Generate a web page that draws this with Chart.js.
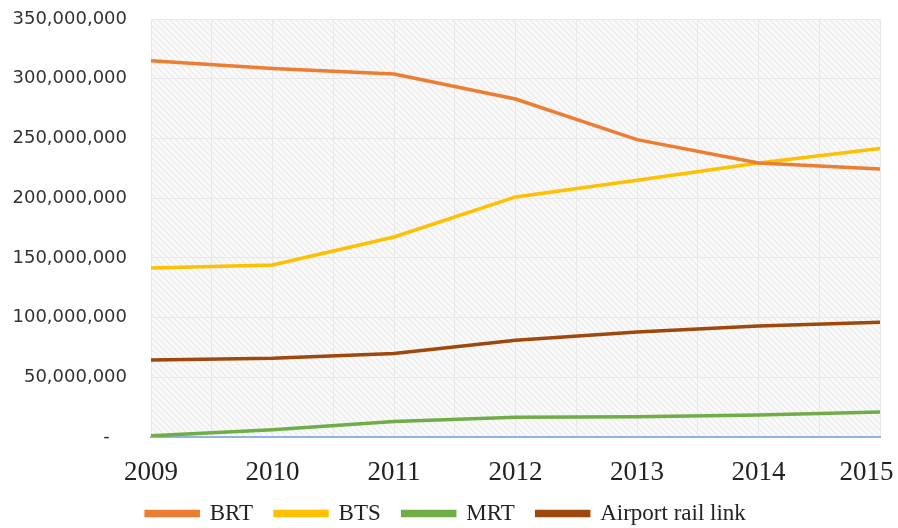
<!DOCTYPE html>
<html>
<head>
<meta charset="utf-8">
<script src="https://cdn.jsdelivr.net/npm/chart.js@4.4.0/dist/chart.umd.min.js"></script>
<style>
  body { margin: 0; background: #fff; }
  #wrap { width: 898px; height: 528px; position: relative; }
</style>
</head>
<body>
<div id="wrap"><canvas id="ridership"></canvas></div>
<script>
// Passengers per year
var years = [2009, 2010, 2011, 2012, 2013, 2014, 2015];
var brt = [315000000, 308500000, 304000000, 283000000, 249000000, 229500000, 224500000];
var bts = [141500000, 144000000, 167500000, 201000000, 215000000, 229500000, 241500000];
var mrt = [1000000, 6000000, 13000000, 16500000, 17000000, 18500000, 21000000];
var arl = [64500000, 66000000, 70000000, 81000000, 88000000, 93000000, 96000000];
var yTicks = [0, 50000000, 100000000, 150000000, 200000000, 250000000, 300000000, 350000000];

var pts = function (arr) {
    return years.map(function (yr, i) { return {x: yr, y: arr[i]}; });
};

// hatched plot background
var hatchBg = {
    id: 'hatchBg',
    beforeDraw: function (chart) {
        var a = chart.chartArea, ctx = chart.ctx;
        var c = document.createElement('canvas');
        c.width = 6; c.height = 6;
        var g = c.getContext('2d');
        g.fillStyle = '#fafafa';
        g.fillRect(0, 0, 6, 6);
        g.strokeStyle = '#e9e9e9';
        g.lineWidth = 1.1;
        g.beginPath();
        g.moveTo(0, 0); g.lineTo(6, 6);
        g.moveTo(-1, 5); g.lineTo(1, 7);
        g.moveTo(5, -1); g.lineTo(7, 1);
        g.stroke();
        ctx.save();
        ctx.fillStyle = ctx.createPattern(c, 'repeat');
        ctx.fillRect(a.left, a.top, a.right - a.left, a.bottom - a.top);
        ctx.restore();
    }
};

var line = function (label, data, color) {
    return {
        label: label,
        data: pts(data),
        borderColor: color,
        backgroundColor: color,
        borderWidth: 3.5,
        pointRadius: 0,
        tension: 0
    };
};

var ctx = document.getElementById('ridership').getContext('2d');
var chart = new Chart(ctx, {
    type: 'line',
    data: {
        datasets: [
            line('BRT', brt, '#ed7d31'),
            line('BTS', bts, '#ffc000'),
            line('MRT', mrt, '#70ad47'),
            line('Airport rail link', arl, '#9e480e')
        ]
    },
    options: {
        responsive: true,
        maintainAspectRatio: false,
        animation: false,
        layout: {padding: {top: 19, left: 12, right: 18, bottom: -7}},
        plugins: {
            tooltip: {enabled: false},
            legend: {
                position: 'bottom',
                labels: {
                    boxWidth: 52,
                    boxHeight: 4,
                    padding: 22,
                    color: '#222',
                    font: {family: '"Liberation Serif"', size: 23}
                }
            }
        },
        scales: {
            x: {
                type: 'linear',
                min: years[0],
                max: years[years.length - 1],
                afterFit: function (s) { s.paddingLeft = 0; s.paddingRight = 0; s.height = 43; },
                grid: {color: '#e8e8e8', drawTicks: false},
                border: {display: true, color: '#8db4e2', width: 2},
                ticks: {
                    stepSize: 0.5,
                    autoSkip: false,
                    maxRotation: 0,
                    padding: 20,
                    color: '#222',
                    font: {family: '"Liberation Serif"', size: 27},
                    callback: function (v) {
                        if (!Number.isInteger(v)) return '';
                        // last label sits inside the canvas, as in the original
                        return v === years[years.length - 1] ? String(v) + '    ' : String(v);
                    }
                }
            },
            y: {
                min: yTicks[0],
                max: yTicks[yTicks.length - 1],
                afterFit: function (s) { s.width = 139; s.paddingTop = 0; s.paddingBottom = 0; },
                afterBuildTicks: function (s) { s.ticks = yTicks.map(function (v) { return {value: v}; }); },
                grid: {color: '#e8e8e8', drawTicks: false},
                border: {display: false},
                ticks: {
                    padding: 24,
                    color: '#333',
                    font: {family: '"DejaVu Sans"', size: 18},
                    callback: function (v) { return v === 0 ? '-   ' : v.toLocaleString('en-US'); }
                }
            }
        }
    },
    plugins: [hatchBg]
});
</script>
</body>
</html>
